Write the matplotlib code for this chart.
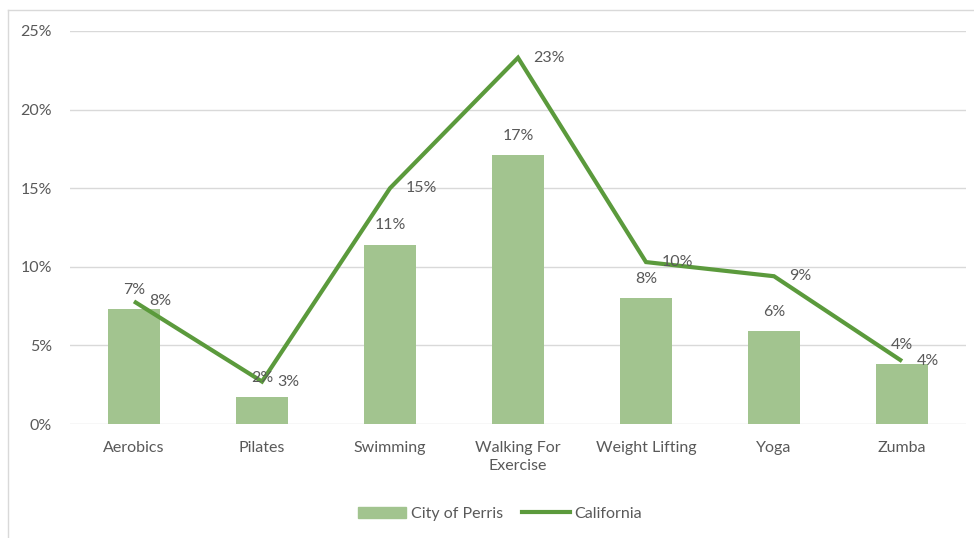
import matplotlib
matplotlib.use("Agg")
import matplotlib.pyplot as plt
from matplotlib.patches import Rectangle
from matplotlib.lines import Line2D
from matplotlib.ticker import FuncFormatter, MultipleLocator

categories = ["Aerobics", "Pilates", "Swimming", "Walking For\nExercise",
              "Weight Lifting", "Yoga", "Zumba"]
perris = [7.3, 1.7, 11.4, 17.1, 8.0, 5.9, 3.8]
california = [7.8, 2.7, 15.0, 23.3, 10.3, 9.4, 4.0]

bar_color = "#A2C48F"
line_color = "#5B9A3C"
text_color = "#595959"
grid_color = "#D9D9D9"
fs = 11.5

plt.rcParams["font.family"] = ["Lato", "DejaVu Sans"]

W, H = 974, 538
fig = plt.figure(figsize=(W / 100, H / 100), dpi=100)
ax = fig.add_axes([70 / W, 1 - 424 / H, 896 / W, 393 / H])

x = list(range(len(categories)))
ax.bar(x, perris, width=0.41, color=bar_color, zorder=2)
ax.plot(x, california, color=line_color, lw=3, zorder=3,
        solid_joinstyle="miter", solid_capstyle="butt")

for xi, v in zip(x, perris):
    ax.annotate(f"{v:.0f}%", (xi, v), xytext=(0, 9), textcoords="offset points",
                ha="center", va="bottom", color=text_color, fontsize=fs, zorder=4)
for xi, v in zip(x, california):
    ax.annotate(f"{v:.0f}%", (xi, v), xytext=(11, 0), textcoords="offset points",
                ha="left", va="center", color=text_color, fontsize=fs, zorder=4)

ax.set_xlim(-0.5, len(categories) - 0.5)
ax.set_ylim(0, 25)
ax.yaxis.set_major_locator(MultipleLocator(5))
ax.yaxis.set_major_formatter(FuncFormatter(lambda v, p: f"{v:.0f}%"))
ax.set_xticks(x)
ax.set_xticklabels(categories, linespacing=1.35)
ax.tick_params(axis="both", length=0, colors=text_color, labelsize=fs)
ax.tick_params(axis="x", pad=12)
ax.tick_params(axis="y", pad=13)
ax.grid(axis="y", color=grid_color, lw=1, zorder=0)
for s in ax.spines.values():
    s.set_visible(False)

# outer chart-area frame
fig.add_artist(Line2D([8 / W, 8 / W], [0, 1 - 10 / H], transform=fig.transFigure,
                      color=grid_color, lw=1))
fig.add_artist(Line2D([8 / W, 1], [1 - 10 / H, 1 - 10 / H], transform=fig.transFigure,
                      color=grid_color, lw=1))

handles = [Rectangle((0, 0), 1, 1, color=bar_color),
           Line2D([0], [0], color=line_color, lw=3)]
fig.legend(handles, ["City of Perris", "California"], loc="center",
           bbox_to_anchor=(500 / W, 1 - 514 / H), ncol=2, frameon=False,
           fontsize=fs, labelcolor=text_color, handlelength=3.0,
           handletextpad=0.3, columnspacing=1.2)

fig.savefig("out.png", dpi=100, facecolor="white")
